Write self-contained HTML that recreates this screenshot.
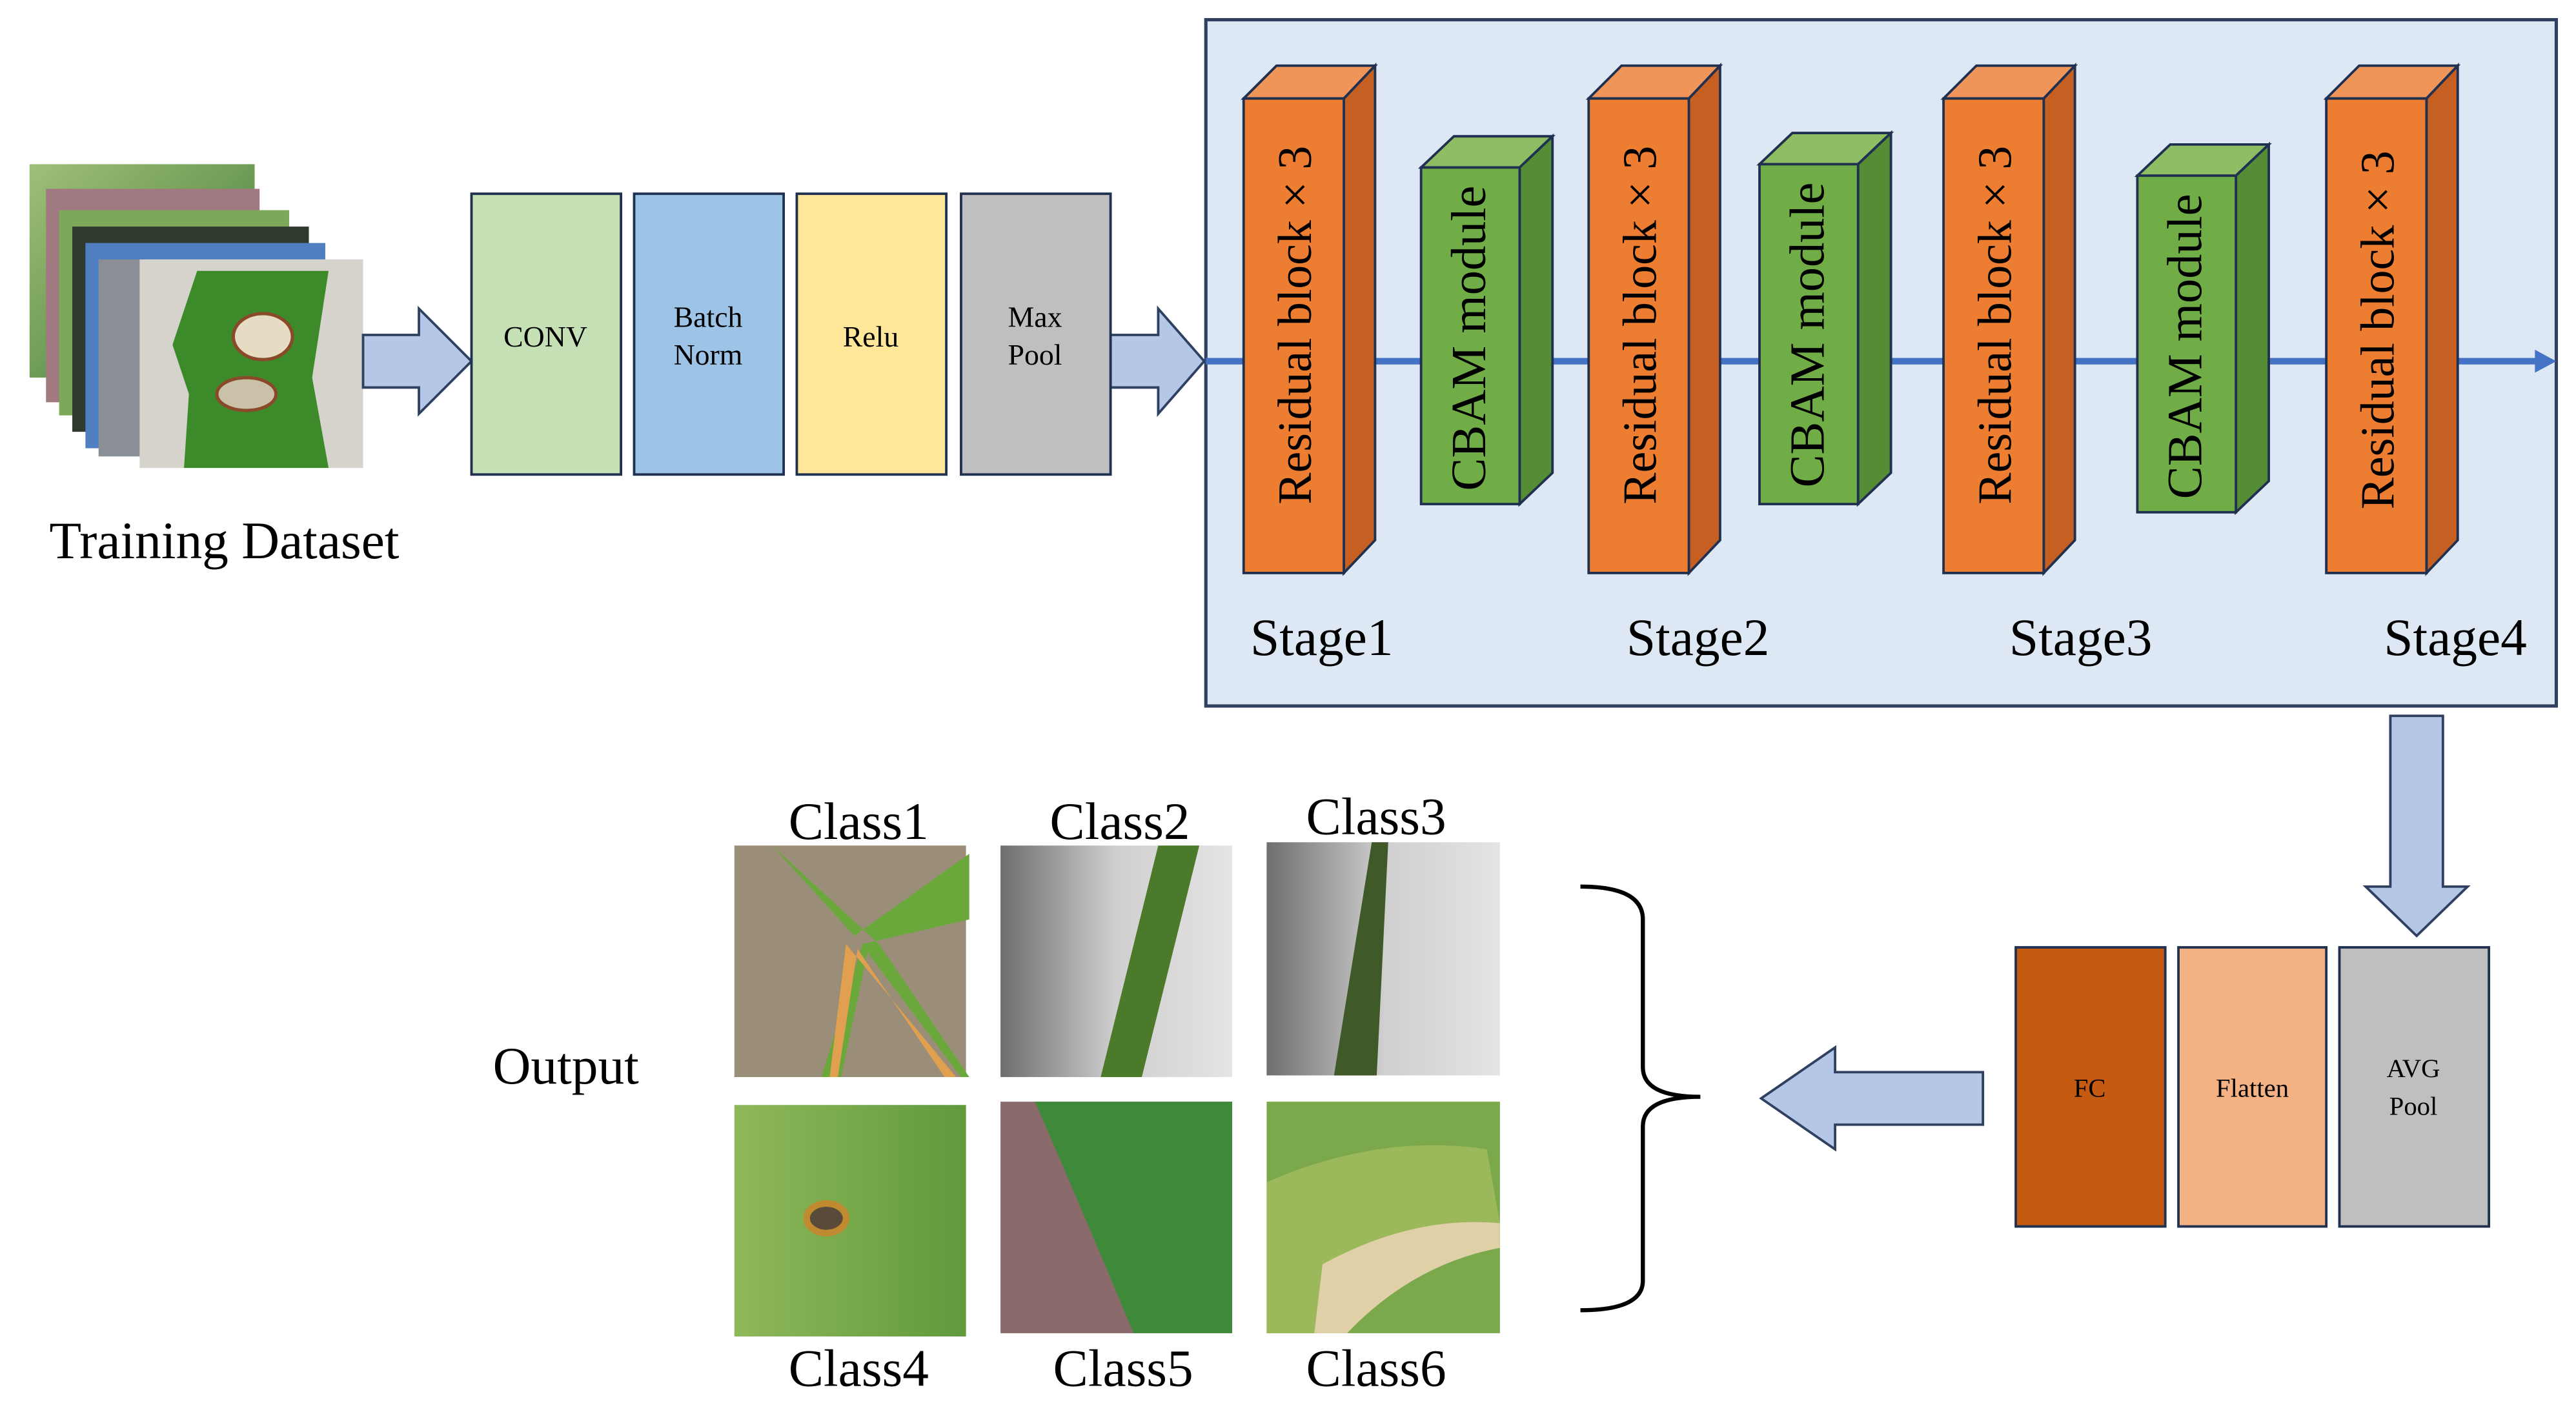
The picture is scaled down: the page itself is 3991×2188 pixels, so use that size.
<!DOCTYPE html>
<html><head><meta charset="utf-8"><style>
html,body{margin:0;padding:0;background:#fff;}
svg{display:block;}
text{font-family:"Liberation Serif",serif;fill:#000;}
</style></head><body>
<svg width="3991" height="2188" viewBox="0 0 1568 860" preserveAspectRatio="none" xmlns="http://www.w3.org/2000/svg">
<defs>
<linearGradient id="g1" x1="0" y1="0" x2="1" y2="1"><stop offset="0" stop-color="#9fbf78"/><stop offset="1" stop-color="#3f7a35"/></linearGradient>
<linearGradient id="gray" x1="0" y1="0" x2="1" y2="0"><stop offset="0" stop-color="#6e6e6e"/><stop offset="0.5" stop-color="#cfcfcf"/><stop offset="1" stop-color="#e4e4e4"/></linearGradient>
<linearGradient id="lf" x1="0" y1="0" x2="1" y2="0"><stop offset="0" stop-color="#8fb85a"/><stop offset="1" stop-color="#5f9a3c"/></linearGradient>
</defs>

<rect x="734" y="12" width="822" height="418" fill="#dde8f4" stroke="#2f4060" stroke-width="2"/>
<line x1="734" y1="220" x2="1545" y2="220" stroke="#4472c4" stroke-width="4"/>
<polygon points="1543,213 1556,220 1543,227" fill="#4472c4"/>

<g stroke="#203050" stroke-width="1.5">
<polygon points="757,60 777,40 837,40 818,60" fill="#f0955a"/>
<polygon points="818,60 837,40 837,329 818,349" fill="#c55f22"/>
<rect x="757" y="60" width="61" height="289" fill="#ed7d31"/>
<polygon points="967,60 987,40 1047,40 1028,60" fill="#f0955a"/>
<polygon points="1028,60 1047,40 1047,329 1028,349" fill="#c55f22"/>
<rect x="967" y="60" width="61" height="289" fill="#ed7d31"/>
<polygon points="1183,60 1203,40 1263,40 1244,60" fill="#f0955a"/>
<polygon points="1244,60 1263,40 1263,329 1244,349" fill="#c55f22"/>
<rect x="1183" y="60" width="61" height="289" fill="#ed7d31"/>
<polygon points="1416,60 1436,40 1496,40 1477,60" fill="#f0955a"/>
<polygon points="1477,60 1496,40 1496,329 1477,349" fill="#c55f22"/>
<rect x="1416" y="60" width="61" height="289" fill="#ed7d31"/>

<polygon points="865,102 885,83 945,83 925,102" fill="#8fbd63"/>
<polygon points="925,102 945,83 945,288 925,307" fill="#548d36"/>
<rect x="865" y="102" width="60" height="205" fill="#70ad47"/>
<polygon points="1071,100 1091,81 1151,81 1131,100" fill="#8fbd63"/>
<polygon points="1131,100 1151,81 1151,288 1131,307" fill="#548d36"/>
<rect x="1071" y="100" width="60" height="207" fill="#70ad47"/>
<polygon points="1301,107 1321,88 1381,88 1361,107" fill="#8fbd63"/>
<polygon points="1361,107 1381,88 1381,293 1361,312" fill="#548d36"/>
<rect x="1301" y="107" width="60" height="205" fill="#70ad47"/>
</g>
<g font-size="29">
<text transform="translate(798,198) rotate(-90)" text-anchor="middle">Residual block × 3</text>
<text transform="translate(1008,198) rotate(-90)" text-anchor="middle">Residual block × 3</text>
<text transform="translate(1224,198) rotate(-90)" text-anchor="middle">Residual block × 3</text>
<text transform="translate(1457,201) rotate(-90)" text-anchor="middle">Residual block × 3</text>
<text transform="translate(904,206) rotate(-90)" text-anchor="middle" font-size="30">CBAM module</text>
<text transform="translate(1110,204) rotate(-90)" text-anchor="middle" font-size="30">CBAM module</text>
<text transform="translate(1340,211) rotate(-90)" text-anchor="middle" font-size="30">CBAM module</text>
</g>
<g font-size="32">
<text x="761" y="399">Stage1</text>
<text x="990" y="399">Stage2</text>
<text x="1223" y="399">Stage3</text>
<text x="1451" y="399">Stage4</text>
</g>

<rect x="18" y="100" width="137" height="130" fill="url(#g1)"/>
<rect x="28" y="115" width="130" height="130" fill="#a07a80"/>
<rect x="36" y="128" width="140" height="125" fill="#7da85a"/>
<rect x="44" y="138" width="144" height="125" fill="#2e3a2e"/>
<rect x="52" y="148" width="146" height="125" fill="#4f7fc0"/>
<rect x="60" y="158" width="150" height="120" fill="#8a8f96"/>
<rect x="85" y="158" width="136" height="127" fill="#d6d3cc"/>
<path d="M120,165 L200,165 L190,230 L200,285 L112,285 L115,240 L105,210 Z" fill="#3c8a2a"/>
<ellipse cx="160" cy="205" rx="18" ry="14" fill="#e6dcc4" stroke="#8a4a2a" stroke-width="2"/>
<ellipse cx="150" cy="240" rx="18" ry="10" fill="#c9c2a8" stroke="#8a4a2a" stroke-width="2"/>
<text x="30" y="340" font-size="32">Training Dataset</text>

<g fill="#b4c7e7" stroke="#2f4060" stroke-width="1.5">
<polygon points="221,204 255,204 255,188 287,220 255,252 255,236 221,236"/>
<polygon points="676,204 705,204 705,188 733,220 705,252 705,236 676,236"/>
<polygon points="1455,436 1487,436 1487,540 1502,540 1471,570 1440,540 1455,540"/>
<polygon points="1207,653 1117,653 1117,638 1072,669 1117,700 1117,685 1207,685"/>
</g>

<g stroke="#203050" stroke-width="1.5">
<rect x="287" y="118" width="91" height="171" fill="#c5e0b4"/>
<rect x="386" y="118" width="91" height="171" fill="#9dc3e6"/>
<rect x="485" y="118" width="91" height="171" fill="#ffe699"/>
<rect x="585" y="118" width="91" height="171" fill="#bfbfbf"/>
<rect x="1227" y="577" width="91" height="170" fill="#c55a11"/>
<rect x="1326" y="577" width="90" height="170" fill="#f4b183"/>
<rect x="1424" y="577" width="91" height="170" fill="#bfbfbf"/>
</g>
<g font-size="18" text-anchor="middle">
<text x="332" y="211">CONV</text>
<text x="431" y="199">Batch</text><text x="431" y="222">Norm</text>
<text x="530" y="211">Relu</text>
<text x="630" y="199">Max</text><text x="630" y="222">Pool</text>
<text x="1272" y="668" font-size="16">FC</text>
<text x="1371" y="668" font-size="16">Flatten</text>
<text x="1469" y="656" font-size="16">AVG</text><text x="1469" y="679" font-size="16">Pool</text>
</g>

<path d="M962,540 Q1000,540 1000,560 L1000,650 Q1000,668 1035,668 Q1000,668 1000,686 L1000,780 Q1000,798 962,798" fill="none" stroke="#000" stroke-width="2.5"/>

<text x="300" y="660" font-size="32">Output</text>

<rect x="447" y="515" width="141" height="141" fill="#9a8e78"/>
<path d="M470,515 L520,570 L590,520 L590,560 L525,575 L500,656 L512,656 L528,580 L585,656 L590,656 L535,575 Z" fill="#6aa83c"/>
<path d="M515,575 L505,656 L510,656 L522,578 L575,656 L582,656 Z" fill="#e0a050"/>
<rect x="609" y="515" width="141" height="141" fill="url(#gray)"/>
<polygon points="705,515 730,515 695,656 670,656" fill="#4a7a2a"/>
<rect x="771" y="513" width="142" height="142" fill="url(#gray)"/>
<polygon points="835,513 845,513 838,655 812,655" fill="#3f5a28"/>
<rect x="447" y="673" width="141" height="141" fill="url(#lf)"/>
<ellipse cx="503" cy="742" rx="12" ry="9" fill="#5a4a3a" stroke="#c08a30" stroke-width="4"/>
<rect x="609" y="671" width="141" height="141" fill="#8a6a6a"/>
<path d="M630,671 L750,671 L750,812 L690,812 Q660,740 630,671 Z" fill="#3f8a3a"/>
<rect x="771" y="671" width="142" height="141" fill="#7aa84a"/>
<path d="M771,720 Q840,690 905,700 L913,745 Q850,760 800,812 L771,812 Z" fill="#9bb85a"/>
<path d="M805,770 Q860,740 913,745 L913,760 Q860,770 820,812 L800,812 Z" fill="#e0d0a8"/>

<g font-size="32">
<text x="480" y="511">Class1</text>
<text x="639" y="511">Class2</text>
<text x="795" y="508">Class3</text>
<text x="480" y="844">Class4</text>
<text x="641" y="844">Class5</text>
<text x="795" y="844">Class6</text>
</g>
</svg>
</body></html>
